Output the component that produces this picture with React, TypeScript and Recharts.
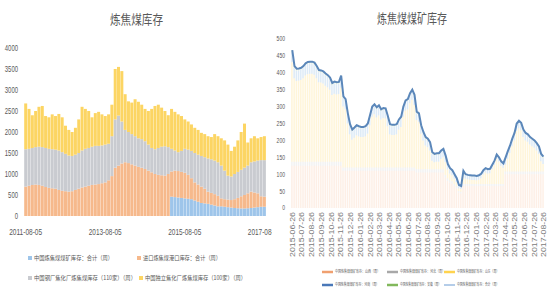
import React from 'react';
import { BarChart, ComposedChart, Bar, Line, XAxis, YAxis } from 'recharts';

// ---- left chart: 炼焦煤库存 (monthly, 2011-08 .. 2017-08) ----
const leftDates: string[] = [];
for (let i = 0; i < 73; i++) {
  const y = 2011 + Math.floor((7 + i) / 12);
  const m = ((7 + i) % 12) + 1;
  leftDates.push(`${y}-${String(m).padStart(2, '0')}-05`);
}

const mineStock = [
  0, 0, 0, 0, 0, 0, 0, 0, 0, 0, 0, 0, 0, 0, 0, 0, 0, 0, 0, 0, 0, 0,
  0, 0, 0, 0, 0, 0, 0, 0, 0, 0, 0, 0, 0, 0, 0, 0, 0, 0, 0, 0, 0, 0,
  460, 450, 440, 430, 420, 410, 400, 370, 340, 310, 300, 290, 270, 250, 230,
  230, 220, 210, 200, 190, 185, 180, 180, 185, 190, 200, 210, 220, 220,
];
const portStock = [
  700, 720, 740, 750, 740, 720, 690, 670, 660, 650,
  620, 600, 590, 580, 590, 620, 650, 680, 700, 720,
  740, 750, 760, 780, 800, 850, 950, 1150, 1200, 1250,
  1280, 1260, 1230, 1200, 1170, 1150, 1120, 1080, 1040, 1000,
  980, 970, 960, 1000,
  600, 630, 630, 620, 610, 570, 500, 430, 410, 390, 350, 290, 280, 270, 250,
  190, 180, 180, 180, 210, 245, 290, 320, 355, 390, 360, 330, 250, 240,
];
const steelStock = [
  890, 880, 880, 890, 910, 920, 930, 930, 930, 930,
  940, 920, 890, 860, 840, 840, 850, 880, 900, 900,
  910, 920, 910, 900, 900, 870, 950, 1150, 1190, 1000,
  770, 740, 720, 700, 680, 680, 660, 620, 580, 590,
  640, 680, 700, 640, 540, 480, 450, 500, 570, 600,
  650, 700, 710, 730, 750, 790, 800, 800, 800, 780,
  680, 570, 560, 600, 620, 630, 650, 660, 700, 740,
  780, 860, 870,
];
const cokeStock = [
  1090, 950, 780, 860, 950, 980, 760, 750, 830, 800,
  870, 830, 670, 610, 570, 640, 800, 1040, 950, 880,
  700, 780, 810, 740, 680, 700, 750, 1200, 1160, 1200,
  850, 730, 750, 880, 870, 820, 770, 800, 930, 1030,
  1030, 930, 840, 760, 950, 920, 900, 830, 700, 670,
  630, 600, 590, 550, 550, 530, 530, 630, 620, 650,
  720, 740, 610, 650, 750, 900, 1050, 550, 570, 600,
  530, 550, 570,
];
const leftYTicks = [0, 500, 1000, 1500, 2000, 2500, 3000, 3500, 4000];

const leftData = leftDates.map((date, i) => ({
  date,
  mine: mineStock[i],
  port: portStock[i],
  steel: steelStock[i],
  coke: cokeStock[i],
}));

// ---- right chart: 炼焦煤煤矿库存 (weekly, from 2015-06-26) ----
const regionA = [
  125, 125, 125, 125, 125, 125, 125, 125, 125, 125, 125, 125, 125, 125, 125, 125, 125, 125, 125, 125, 125, 125, 125,
  110, 110, 110, 110, 110, 110, 110, 110, 110, 110, 110, 110, 110, 110, 110, 110, 110,
  110, 110, 110, 110, 110, 110, 110, 110, 110, 110, 110, 110, 110, 110, 110, 110,
  105, 105, 105, 105, 105, 105, 105, 105, 105, 105, 105, 105, 105,
  90, 80, 75, 72, 65, 58, 45, 43,
  65, 65, 65, 65, 65, 65, 65, 65, 65, 65, 65, 65, 65, 65, 65, 65, 65, 65, 65,
  100, 100, 100, 100, 100, 100, 100, 100, 100, 100, 100, 100, 100, 100, 100, 100, 100, 100,
];
const regionB = [
  12, 12, 12, 12, 12, 12, 12, 12, 12, 12, 12, 12, 12, 12, 12, 12, 12, 12, 12, 12, 12, 12, 12,
  10, 10, 10, 10, 10, 10, 10, 10, 10, 10, 10, 10, 10, 10, 10, 10, 10,
  10, 10, 10, 10, 10, 10, 10, 10, 10, 10, 10, 10, 10, 10, 10, 10,
  10, 10, 10, 10, 10, 10, 10, 10, 10, 10, 10, 10, 10,
  8, 8, 7, 7, 6, 6, 5, 5,
  6, 6, 6, 6, 6, 6, 6, 6, 6, 6, 6, 6, 6, 6, 6, 6, 6, 6, 6,
  8, 8, 8, 8, 8, 8, 8, 8, 8, 8, 8, 8, 8, 8, 8, 8, 8, 8,
];
const regionC = [
  294, 247, 239, 240, 242, 247, 255, 259, 260, 260,
  257, 247, 235, 234, 231, 225, 220, 213, 197, 201,
  199, 200, 219, 180, 172, 130, 98, 82, 88, 95,
  92, 90, 90, 92, 100, 125, 150, 157, 148, 154,
  142, 146, 145, 122, 98, 96, 96, 98, 112, 120,
  150, 168, 172, 190, 200, 185, 145, 140, 105, 85,
  70, 65, 55, 25, 20, 22, 22, 30, 35, 38,
  26, 20, 18, 16, 12, 8, 8, 26, 16, 14,
  13, 12, 12, 11, 13, 17, 28, 34, 31, 32,
  44, 56, 74, 66, 54, 48, 20, 38, 55, 75,
  92, 120, 128, 122, 102, 92, 88, 80, 75, 70,
  62, 52, 30, 22,
];
const regionD = [
  30, 30, 30, 30, 30, 30, 30, 30, 30, 30, 30, 30, 30, 30, 30, 30, 30, 30, 30, 30, 30, 30, 30,
  25, 25, 25, 25, 25, 25, 25, 25, 25, 25, 25, 25, 25, 25, 25, 25, 25,
  25, 25, 25, 25, 25, 25, 25, 25, 25, 25, 25, 25, 25, 25, 25, 25,
  20, 20, 20, 20, 20, 20, 20, 20, 20, 20, 20, 20, 20,
  15, 12, 12, 11, 10, 9, 7, 7,
  10, 10, 10, 10, 10, 10, 10, 10, 10, 10, 10, 10, 10, 10, 10, 10, 10, 10, 10,
  18, 18, 18, 18, 18, 18, 18, 18, 18, 18, 18, 18, 18, 18, 18, 18, 18, 18,
];
const regionE = [
  6, 6, 6, 6, 6, 6, 6, 6, 6, 6, 6, 6, 6, 6, 6, 6, 6, 6, 6, 6, 6, 6, 6,
  5, 5, 5, 5, 5, 5, 5, 5, 5, 5, 5, 5, 5, 5, 5, 5, 5,
  5, 5, 5, 5, 5, 5, 5, 5, 5, 5, 5, 5, 5, 5, 5, 5,
  5, 5, 5, 5, 5, 5, 5, 5, 5, 5, 5, 5, 5,
  4, 4, 4, 4, 3, 3, 3, 2,
  3, 3, 3, 3, 3, 3, 3, 3, 3, 3, 3, 3, 3, 3, 3, 3, 3, 3, 3,
  4, 4, 4, 4, 4, 4, 4, 4, 4, 4, 4, 4, 4, 4, 4, 4, 4, 4,
];
const mineTotal = [
  467, 420, 412, 413, 415, 420, 428, 432, 433, 433,
  430, 420, 408, 407, 404, 398, 393, 386, 370, 374,
  372, 373, 392, 330, 322, 280, 248, 232, 238, 245,
  242, 240, 240, 242, 250, 275, 300, 307, 298, 304,
  292, 296, 295, 272, 248, 246, 246, 248, 262, 270,
  300, 318, 322, 340, 350, 335, 285, 280, 245, 225,
  210, 205, 195, 165, 160, 162, 162, 170, 175, 155,
  130, 118, 112, 100, 88, 68, 65, 110, 100, 98,
  97, 96, 96, 95, 97, 101, 112, 118, 115, 116,
  128, 140, 158, 150, 138, 132, 150, 168, 185, 205,
  222, 250, 258, 252, 232, 222, 218, 210, 205, 200,
  192, 182, 160, 152,
];
const rightTickLabels = [
  '2015-06-26', '2015-07-26', '2015-08-26', '2015-09-26', '2015-10-26', '2015-11-26',
  '2015-12-26', '2016-01-26', '2016-02-26', '2016-03-26', '2016-04-26', '2016-05-26',
  '2016-06-26', '2016-07-26', '2016-08-26', '2016-09-26', '2016-10-26', '2016-11-26',
  '2016-12-26', '2017-01-26', '2017-02-26', '2017-03-26', '2017-04-26', '2017-05-26',
  '2017-06-26', '2017-07-26', '2017-08-26',
];
const rightYTicks = [0, 50, 100, 150, 200, 250, 300, 350, 400, 450, 500];

const DAY = 86400000;
const start = Date.parse('2015-06-26');
const rightTickDays = rightTickLabels.map((s) => Math.round((Date.parse(s) - start) / DAY));
const dayLabel: Record<number, string> = {};
rightTickDays.forEach((d, i) => { dayLabel[d] = rightTickLabels[i]; });

const rightData = mineTotal.map((total, i) => ({
  day: i * 7,
  a: regionA[i],
  b: regionB[i],
  c: regionC[i],
  d: regionD[i],
  e: regionE[i],
  total,
}));

const sans = "'Liberation Sans', Arial, sans-serif";
const cjk = "'Noto Sans CJK SC', sans-serif";
const txt = '#595959';

// squeezed number labels, the source uses a condensed face
const NumTick = (props: any) => {
  const { x, y, payload, fs, cw, anchor, dy } = props;
  const s = String(payload.value);
  return (
    <text x={x} y={y} dy={dy} textAnchor={anchor} fontSize={fs} fill={txt} fontFamily={sans}
      textLength={s.length * cw} lengthAdjust="spacingAndGlyphs">
      {s}
    </text>
  );
};

const RotatedTick = (props: any) => {
  const { x, y, payload } = props;
  return (
    <g transform={`translate(${x},${y})`}>
      <text transform="rotate(-90)" x={0} y={0} dy="0.35em" textAnchor="end" fontSize={7.5} fill="#7a7a7a" fontFamily={sans}
        textLength={45} lengthAdjust="spacingAndGlyphs">
        {dayLabel[payload.value]}
      </text>
    </g>
  );
};

const leftLegend = [
  { name: '中国炼焦煤煤矿库存：合计（周）', color: '#9ec5ea', x: 28, y: 258, w: 79 },
  { name: '进口炼焦煤港口库存：合计（周）', color: '#f6b98c', x: 137, y: 258, w: 78 },
  { name: '中国钢厂焦化厂炼焦煤库存（110家）（周）', color: '#c9cbd0', x: 28, y: 278, w: 102 },
  { name: '中国独立焦化厂炼焦煤库存（100家）（周）', color: '#fcd563', x: 139, y: 278, w: 101 },
];

const rightLegend = [
  { name: '中国炼焦煤煤矿库存：山西（周）', color: '#f0a070', x: 322, y: 272, w: 45, thin: false },
  { name: '中国炼焦煤煤矿库存：河北（周）', color: '#a8a8a8', x: 387, y: 272, w: 45, thin: false },
  { name: '中国炼焦煤煤矿库存：山东（周）', color: '#ffd34e', x: 444, y: 272, w: 42, thin: false },
  { name: '中国炼焦煤煤矿库存：河南（周）', color: '#4a78b8', x: 322, y: 285, w: 44, thin: false },
  { name: '中国炼焦煤煤矿库存：安徽（周）', color: '#82b85c', x: 387, y: 285, w: 41, thin: false },
  { name: '中国炼焦煤煤矿库存：合计（周）', color: '#6b9bd2', x: 444, y: 285, w: 42, thin: true },
];

export default function App() {
  return (
    <div style={{ position: 'absolute', left: 0, top: 0, width: 550, height: 300, background: '#fff', overflow: 'hidden' }}>
      <div style={{ position: 'absolute', left: 0, top: 0, width: 272, height: 300, overflow: 'hidden' }}>
        <BarChart width={272} height={300} data={leftData} margin={{ top: 48, right: 6, left: 2, bottom: 64 }} barCategoryGap="6%">
          <XAxis dataKey="date" interval={23} tickLine={false} axisLine={false} height={20} tickMargin={7}
            tick={<NumTick fs={9} cw={3.3} anchor="middle" dy="0.71em" />} />
          <YAxis domain={[0, 4000]} ticks={leftYTicks} interval={0} width={22} axisLine={false} tickLine={false} tickMargin={0}
            tick={<NumTick fs={9} cw={3.3} anchor="end" dy="0.35em" />} />
          <Bar dataKey="mine" stackId="s" fill="#9ec5ea" isAnimationActive={false} />
          <Bar dataKey="port" stackId="s" fill="#f6b98c" isAnimationActive={false} />
          <Bar dataKey="steel" stackId="s" fill="#c9cbd0" isAnimationActive={false} />
          <Bar dataKey="coke" stackId="s" fill="#fcd563" isAnimationActive={false} />
        </BarChart>
      </div>
      <div style={{ position: 'absolute', left: 265, top: 0, width: 285, height: 300 }}>
        <ComposedChart width={285} height={300} data={rightData} margin={{ top: 39, right: 5, left: 2, bottom: 42 }}>
          <XAxis dataKey="day" type="number" domain={[-4, 796]} ticks={rightTickDays} interval={0}
            tickLine={false} axisLine={false} height={50} tickSize={0} tickMargin={4} tick={<RotatedTick />} />
          <YAxis type="number" orientation="left" domain={[0, 500]} ticks={rightYTicks} interval={0} width={24}
            axisLine={false} tickLine={false} tickMargin={0}
            tick={<NumTick fs={7} cw={2.8} anchor="end" dy="0.35em" />} />
          <Bar dataKey="a" stackId="r" fill="#f4b183" fillOpacity={0.2} barSize={1.5} isAnimationActive={false} />
          <Bar dataKey="b" stackId="r" fill="#a5a5a5" fillOpacity={0.15} barSize={1.5} isAnimationActive={false} />
          <Bar dataKey="c" stackId="r" fill="#ffd966" fillOpacity={0.25} barSize={1.5} isAnimationActive={false} />
          <Bar dataKey="d" stackId="r" fill="#9dc3e6" fillOpacity={0.35} barSize={1.5} isAnimationActive={false} />
          <Bar dataKey="e" stackId="r" fill="#a9d18e" fillOpacity={0.25} barSize={1.5} isAnimationActive={false} />
          <Line dataKey="total" type="linear" stroke="#5b87ba" strokeWidth={2} dot={false} isAnimationActive={false} />
        </ComposedChart>
      </div>
      <svg width={550} height={300} style={{ position: 'absolute', left: 0, top: 0, pointerEvents: 'none' }}>
        <text x={110} y={24} fontSize={13} fill={txt} fontFamily={cjk} textLength={53} lengthAdjust="spacingAndGlyphs">炼焦煤库存</text>
        <text x={377} y={23} fontSize={13} fill={txt} fontFamily={cjk} textLength={70} lengthAdjust="spacingAndGlyphs">炼焦煤煤矿库存</text>
        {leftLegend.map((l) => (
          <g key={l.name}>
            <rect x={l.x} y={l.y - 2} width={4} height={4} fill={l.color} />
            <text x={l.x + 6} y={l.y + 2.2} fontSize={6} fill={txt} fontFamily={cjk} textLength={l.w} lengthAdjust="spacingAndGlyphs">{l.name}</text>
          </g>
        ))}
        {rightLegend.map((l) => (
          <g key={l.name}>
            <line x1={l.x} x2={l.x + 11} y1={l.y} y2={l.y} stroke={l.color} strokeWidth={l.thin ? 1 : 2.5} />
            <text x={l.x + 13} y={l.y + 1.4} fontSize={4} fill={txt} fontFamily={cjk} textLength={l.w} lengthAdjust="spacingAndGlyphs">{l.name}</text>
          </g>
        ))}
      </svg>
    </div>
  );
}
